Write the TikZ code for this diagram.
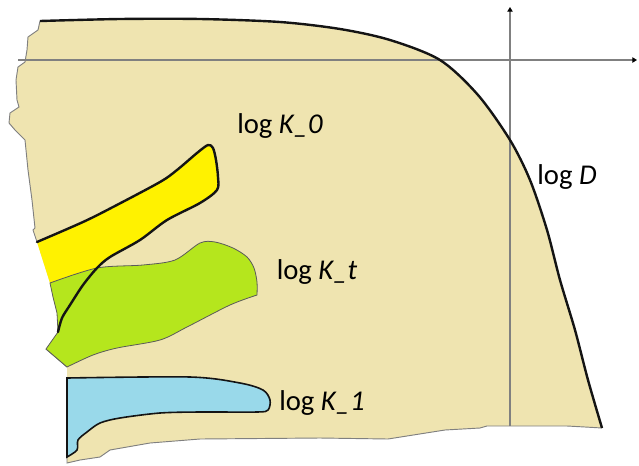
\documentclass[tikz,border=0pt]{standalone}
\usepackage{fontspec}
\setmainfont{Carlito}
\usepackage{tikz}
\usetikzlibrary{arrows.meta}
\definecolor{mybeige}{RGB}{239,228,176}
\definecolor{myyellow}{RGB}{255,242,0}
\definecolor{mygreen}{RGB}{181,230,29}
\definecolor{myblue}{RGB}{153,217,234}
\definecolor{mygray}{RGB}{128,128,128}
\definecolor{mydark}{RGB}{20,20,20}
\tikzset{
  rim/.style={line width=1.8pt, color=mydark},
  ragged/.style={line width=0.7pt, color=mygray},
  axis/.style={line width=1.1pt, color=mygray,
    -{Triangle[length=3.5pt,width=4pt,black]}},
  boundary/.style={line width=1.8pt, color=mydark, line join=round, line cap=round},
  greenzone/.style={fill=mygreen, draw=mygray!70!black, line width=0.6pt},
  bluezone/.style={fill=myblue, draw=mydark, line width=1.2pt},
  lbl/.style={font=\fontsize{21.5}{25}\selectfont, inner sep=0pt}
}
\begin{document}
\begin{tikzpicture}[x=0.75pt, y=-0.75pt]
  \useasboundingbox (0,0) rectangle (639,465);

  % beige area
  \fill[mybeige] plot[smooth] coordinates {(40,21) (120,19) (200,19) (280,22) (340,29) (390,40)
      (440,60) (478,95) (510,140) (530,180) (547,230) (560,280) (575,330) (588,380) (602,428)}
    -- (585,427) -- (567,426) -- (487,426) -- (480,428) -- (445,430) -- (388,439)
    -- (320,438) -- (200,439) -- (150,443) -- (110,450) -- (100,457) -- (80,460) -- (67,463)
    -- (67,378) -- (67,367) -- (46,349) -- (58,332) -- (57,313) -- (53,297) -- (50,283)
    -- (37,242) -- (33,230) -- (35,228) -- (32,200) -- (28,170) -- (25,140) -- (15,130)
    -- (9,123) -- (10,113) -- (19,107) -- (17,100) -- (16,80) -- (18,67) -- (25,62)
    -- (27,50) -- (28,37) -- (38,30) -- cycle;
  \draw[ragged] (602,428) -- (585,427) -- (567,426) -- (487,426) -- (480,428) -- (445,430)
    -- (388,439) -- (320,438) -- (200,439) -- (150,443) -- (110,450) -- (100,457) -- (80,460)
    -- (67,463) -- (67,378);
  \draw[ragged] (67,367) -- (46,349);
  \draw[ragged] (37,242) -- (33,230) -- (35,228) -- (32,200) -- (28,170) -- (25,140)
    -- (15,130) -- (9,123) -- (10,113) -- (19,107) -- (17,100) -- (16,80) -- (18,67)
    -- (25,62) -- (27,50) -- (28,37) -- (38,30) -- (40,21);

  % yellow zone
  \fill[myyellow] plot[smooth] coordinates {(37,242) (83,222) (113,207) (160,182) (177,170)
      (197,153) (208,145) (213,148) (216,160) (218,177) (217,190) (200,203) (167,220)
      (140,240) (110,257) (97,268) (83,285)} -- (50,283) -- cycle;

  % green zone
  \draw[greenzone] plot[smooth] coordinates {(50,283) (97,268) (143,265) (175,260) (200,243)
      (215,242) (233,248) (247,257) (254,268) (257,282) (257,295)}
    -- plot[smooth] coordinates {(257,295) (230,305) (187,327) (160,340) (117,348) (93,355)
      (67,367)}
    -- (46,349) -- (58,332) -- (57,313) -- (53,297) -- cycle;

  % blue zone
  \draw[bluezone] (67,378) -- plot[smooth] coordinates {(67,378) (190,377) (240,383)
      (263,390) (270,400) (268,410) (257,412) (200,412) (160,413) (120,418) (100,423)
      (87,432) (78,440) (77,450) (67,457)} -- cycle;

  % black outline of the yellow zone
  \draw[boundary] plot[smooth] coordinates {(37,242) (83,222) (113,207) (160,182) (177,170)
      (197,153) (208,145) (213,148) (216,160) (218,177) (217,190) (200,203) (167,220)
      (140,240) (110,257) (97,268) (83,285) (70,305) (62,318) (58,332)};

  % axes
  \coordinate (xstart) at (18,60);
  \coordinate (xend) at (637,60);
  \coordinate (ystart) at (510,426);
  \coordinate (yend) at (510,7);
  \draw[axis] (xstart) -- (xend);
  \draw[axis] (ystart) -- (yend);

  % outer curve
  \draw[rim] plot[smooth] coordinates {(40,21) (120,19) (200,19) (280,22) (340,29) (390,40)
      (440,60) (478,95) (510,140) (530,180) (547,230) (560,280) (575,330) (588,380) (602,428)};

  % labels
  \node[lbl] (logk0) at (280,126) {log \textit{K\_0}};
  \node[lbl] (logkt) at (317,272) {log \textit{K\_t}};
  \node[lbl] (logk1) at (322,403) {log \textit{K\_1}};
  \node[lbl] (logd) at (567,177) {log \textit{D}};
\end{tikzpicture}
\end{document}
